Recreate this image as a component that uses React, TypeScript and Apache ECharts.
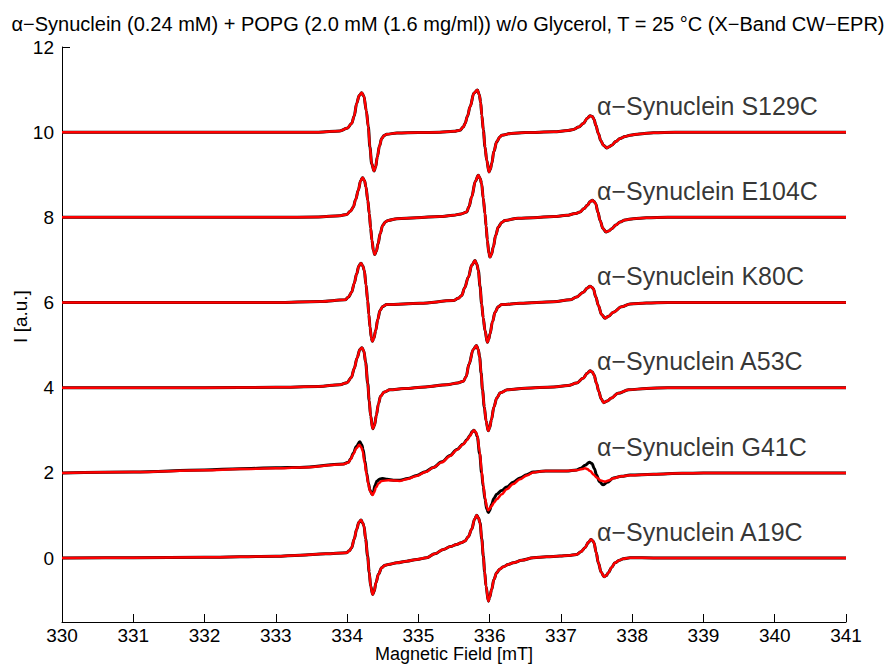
import React, { useEffect, useRef } from "react";
import * as echarts from "echarts";

type Pt = [number, number];

const TITLE =
  "α−Synuclein (0.24 mM) + POPG (2.0 mM (1.6 mg/ml)) w/o Glycerol, T = 25 °C (X−Band CW−EPR)";
const X_NAME = "Magnetic Field [mT]";
const Y_NAME = "I [a.u.]";

const labels = [
  "α−Synuclein S129C",
  "α−Synuclein E104C",
  "α−Synuclein K80C",
  "α−Synuclein A53C",
  "α−Synuclein G41C",
  "α−Synuclein A19C",
];
const offsets = [10, 8, 6, 4, 2, 0];
const labelField = 337.5;
const labelLift = 0.62;
const yTickValues = [0, 2, 4, 6, 8, 10, 12];

// relative intensities (without vertical offset)
const S129C: Pt[] = [
  [330, 0], [331, 0], [332, 0], [333, 0], [333.6, 0], [333.9, 0.03], [334.0, 0.09],
  [334.064, 0.204], [334.1, 0.38], [334.134, 0.675], [334.17, 0.86], [334.205, 0.925],
  [334.235, 0.85], [334.27, 0.5], [334.298, 0.125], [334.32, -0.35], [334.345, -0.737],
  [334.378, -0.91], [334.4, -0.82], [334.424, -0.58], [334.455, -0.32], [334.485, -0.149],
  [334.52, -0.08], [334.555, -0.047], [334.7, -0.02], [335.0, -0.01], [335.3, 0],
  [335.5, 0.02], [335.584, 0.047], [335.63, 0.12], [335.655, 0.204], [335.69, 0.38],
  [335.725, 0.596], [335.78, 0.92], [335.828, 0.988], [335.855, 0.88], [335.874, 0.7],
  [335.89, 0.4], [335.912, 0.047], [335.935, -0.35], [335.959, -0.659], [335.991, -0.933],
  [336.01, -0.87], [336.029, -0.737], [336.06, -0.45], [336.099, -0.227], [336.14, -0.12],
  [336.169, -0.071], [336.3, -0.03], [336.5, -0.01], [336.9, 0.008], [337.1, 0.04],
  [337.175, 0.063], [337.25, 0.12], [337.315, 0.204], [337.37, 0.33], [337.409, 0.384],
  [337.44, 0.37], [337.465, 0.3], [337.49, 0.16], [337.526, -0.031], [337.56, -0.2],
  [337.596, -0.306], [337.643, -0.369], [337.68, -0.34], [337.713, -0.306], [337.77, -0.22],
  [337.83, -0.149], [337.9, -0.1], [337.97, -0.071], [338.1, -0.04], [338.3, -0.015],
  [338.6, 0], [339, 0], [340, 0], [341, 0],
];

const E104C: Pt[] = [
  [330, 0], [331, 0], [332, 0], [333, 0], [333.6, 0.01], [333.9, 0.04], [333.994, 0.07],
  [334.05, 0.15], [334.087, 0.243], [334.12, 0.42], [334.157, 0.635], [334.19, 0.86],
  [334.218, 0.933], [334.245, 0.86], [334.265, 0.714], [334.29, 0.4], [334.312, 0.086],
  [334.33, -0.25], [334.349, -0.541], [334.37, -0.79], [334.387, -0.871], [334.41, -0.8],
  [334.434, -0.62], [334.465, -0.38], [334.499, -0.188], [334.54, -0.1], [334.578, -0.071],
  [334.7, -0.03], [334.976, -0.008], [335.3, 0.02], [335.49, 0.047], [335.6, 0.08],
  [335.678, 0.125], [335.71, 0.25], [335.748, 0.478], [335.8, 0.85], [335.841, 0.988],
  [335.865, 0.92], [335.888, 0.792], [335.91, 0.45], [335.935, 0.086], [335.95, -0.2],
  [335.968, -0.541], [335.99, -0.85], [336.005, -0.933], [336.025, -0.87], [336.052, -0.698],
  [336.085, -0.42], [336.122, -0.227], [336.17, -0.12], [336.215, -0.071], [336.4, -0.02],
  [336.613, -0.008], [336.9, 0.02], [337.081, 0.047], [337.2, 0.09], [337.268, 0.125],
  [337.32, 0.2], [337.371, 0.282], [337.41, 0.37], [337.441, 0.4], [337.465, 0.37],
  [337.488, 0.322], [337.52, 0.12], [337.549, -0.071], [337.59, -0.26], [337.633, -0.345],
  [337.67, -0.32], [337.713, -0.267], [337.77, -0.18], [337.83, -0.11], [337.9, -0.06],
  [338.017, -0.031], [338.2, -0.01], [338.5, 0], [339, 0], [340, 0], [341, 0],
];

const K80C: Pt[] = [
  [330, 0], [331, 0], [332, 0], [333, 0], [333.62, 0.024], [333.971, 0.063], [334.02, 0.13],
  [334.064, 0.243], [334.1, 0.45], [334.134, 0.675], [334.165, 0.86], [334.195, 0.925],
  [334.22, 0.86], [334.242, 0.753], [334.265, 0.42], [334.289, 0.047], [334.305, -0.28],
  [334.322, -0.58], [334.34, -0.82], [334.354, -0.91], [334.375, -0.84], [334.401, -0.659],
  [334.43, -0.4], [334.462, -0.188], [334.5, -0.09], [334.555, -0.047], [335.023, -0.016],
  [335.491, 0.047], [335.56, 0.1], [335.608, 0.165], [335.65, 0.35], [335.701, 0.596],
  [335.75, 0.88], [335.795, 0.988], [335.82, 0.9], [335.842, 0.753], [335.865, 0.38],
  [335.888, -0.031], [335.91, -0.36], [335.935, -0.659], [335.968, -0.933], [335.985, -0.87],
  [336.005, -0.737], [336.04, -0.45], [336.076, -0.227], [336.12, -0.1], [336.169, -0.047],
  [336.426, -0.016], [336.9, 0.02], [337.128, 0.063], [337.22, 0.13], [337.315, 0.243],
  [337.37, 0.34], [337.409, 0.384], [337.435, 0.36], [337.455, 0.322], [337.49, 0.13],
  [337.526, -0.071], [337.57, -0.28], [337.62, -0.369], [337.67, -0.32], [337.736, -0.227],
  [337.85, -0.1], [337.97, -0.031], [338.2, -0.01], [338.5, 0], [339, 0], [340, 0], [341, 0],
];

const A53C: Pt[] = [
  [330, 0], [331, 0], [332, 0], [333, 0.01], [333.6, 0.03], [333.9, 0.07], [334.0, 0.12],
  [334.06, 0.24], [334.1, 0.45], [334.14, 0.7], [334.18, 0.9], [334.21, 0.94],
  [334.235, 0.86], [334.26, 0.6], [334.29, 0.1], [334.31, -0.3], [334.33, -0.66],
  [334.36, -0.96], [334.385, -0.88], [334.41, -0.65], [334.44, -0.38], [334.47, -0.2],
  [334.52, -0.1], [334.6, -0.05], [334.8, -0.02], [335.1, 0.02], [335.4, 0.07],
  [335.55, 0.11], [335.63, 0.15], [335.67, 0.26], [335.71, 0.55], [335.77, 0.9],
  [335.815, 0.99], [335.84, 0.9], [335.86, 0.72], [335.88, 0.35], [335.9, -0.05],
  [335.925, -0.45], [335.95, -0.78], [335.98, -1.01], [336.0, -0.94], [336.025, -0.75],
  [336.06, -0.45], [336.1, -0.24], [336.15, -0.12], [336.25, -0.05], [336.5, -0.01],
  [336.9, 0.02], [337.1, 0.05], [337.22, 0.11], [337.31, 0.22], [337.37, 0.34],
  [337.41, 0.4], [337.44, 0.37], [337.465, 0.3], [337.5, 0.1], [337.53, -0.08],
  [337.565, -0.26], [337.6, -0.35], [337.65, -0.31], [337.71, -0.24], [337.8, -0.13],
  [337.95, -0.05], [338.2, -0.015], [338.5, 0], [339, 0], [340, 0], [341, 0],
];

const G41C_fit: Pt[] = [
  [330, 0], [331, 0.02], [332, 0.06], [332.5, 0.09], [333, 0.11], [333.339, 0.125],
  [333.947, 0.204], [334.017, 0.243], [334.05, 0.32], [334.087, 0.439], [334.13, 0.58],
  [334.172, 0.659], [334.2, 0.6], [334.218, 0.518], [334.245, 0.25], [334.274, -0.031],
  [334.3, -0.27], [334.321, -0.424], [334.359, -0.518], [334.38, -0.45], [334.405, -0.345],
  [334.44, -0.25], [334.485, -0.188], [334.578, -0.173], [334.742, -0.188], [334.85, -0.14],
  [334.976, -0.071], [335.1, 0.02], [335.21, 0.125], [335.33, 0.25], [335.444, 0.4],
  [335.54, 0.54], [335.631, 0.675], [335.68, 0.77], [335.724, 0.871], [335.755, 0.96],
  [335.78, 1.004], [335.805, 0.96], [335.827, 0.871], [335.86, 0.5], [335.888, 0.047],
  [335.91, -0.28], [335.935, -0.58], [335.96, -0.8], [335.982, -0.878], [336.0, -0.84],
  [336.028, -0.776], [336.06, -0.7], [336.099, -0.62], [336.17, -0.5], [336.239, -0.384],
  [336.33, -0.26], [336.426, -0.149], [336.52, -0.06], [336.613, 0.008], [336.73, 0.04],
  [336.847, 0.047], [337.081, 0.047], [337.221, 0.063], [337.3, 0.09], [337.338, 0.11],
  [337.37, 0.09], [337.409, 0.047], [337.46, -0.04], [337.502, -0.11], [337.56, -0.18],
  [337.619, -0.204], [337.68, -0.17], [337.736, -0.125], [337.85, -0.08], [337.97, -0.055],
  [338.3, -0.03], [338.7, -0.01], [339, 0], [340, 0], [341, 0],
];

const G41C_exp: Pt[] = [
  [330, 0], [331, 0.02], [332, 0.07], [332.5, 0.1], [333, 0.12], [333.339, 0.13],
  [333.947, 0.21], [334.017, 0.25], [334.05, 0.33], [334.087, 0.46], [334.13, 0.62],
  [334.178, 0.73], [334.205, 0.66], [334.225, 0.55], [334.25, 0.28], [334.274, 0.0],
  [334.3, -0.25], [334.32, -0.4], [334.35, -0.5], [334.37, -0.44], [334.39, -0.3],
  [334.42, -0.19], [334.46, -0.14], [334.5, -0.13], [334.56, -0.15], [334.65, -0.17],
  [334.742, -0.17], [334.85, -0.13], [334.976, -0.06], [335.1, 0.03], [335.21, 0.13],
  [335.33, 0.26], [335.444, 0.41], [335.54, 0.55], [335.631, 0.68], [335.68, 0.78],
  [335.724, 0.88], [335.755, 0.97], [335.78, 1.0], [335.805, 0.95], [335.827, 0.85],
  [335.86, 0.45], [335.888, 0.0], [335.91, -0.32], [335.935, -0.62], [335.96, -0.85],
  [335.982, -0.93], [336.0, -0.88], [336.028, -0.74], [336.06, -0.6], [336.099, -0.5],
  [336.17, -0.41], [336.239, -0.33], [336.33, -0.22], [336.426, -0.12], [336.52, -0.04],
  [336.613, 0.02], [336.73, 0.04], [336.847, 0.045], [337.081, 0.045], [337.221, 0.07],
  [337.28, 0.11], [337.34, 0.18], [337.4, 0.25], [337.435, 0.22], [337.47, 0.1],
  [337.5, -0.05], [337.54, -0.2], [337.59, -0.28], [337.65, -0.22], [337.736, -0.12],
  [337.85, -0.08], [337.97, -0.05], [338.3, -0.03], [338.7, -0.01], [339, 0], [340, 0], [341, 0],
];

const A19C: Pt[] = [
  [330, 0], [331, 0.01], [332, 0.02], [333, 0.045], [333.339, 0.07], [333.7, 0.1],
  [333.994, 0.125], [334.03, 0.17], [334.064, 0.243], [334.1, 0.45], [334.134, 0.675],
  [334.165, 0.84], [334.195, 0.894], [334.218, 0.83], [334.237, 0.753], [334.26, 0.45],
  [334.288, 0.047], [334.31, -0.33], [334.331, -0.659], [334.359, -0.855], [334.38, -0.78],
  [334.405, -0.58], [334.44, -0.38], [334.485, -0.227], [334.53, -0.17], [334.578, -0.149],
  [334.7, -0.11], [334.836, -0.071], [334.98, -0.03], [335.116, 0.008], [335.23, 0.1],
  [335.35, 0.204], [335.45, 0.27], [335.537, 0.322], [335.6, 0.36], [335.654, 0.4],
  [335.7, 0.5], [335.748, 0.675], [335.79, 0.92], [335.818, 1.004], [335.842, 0.95],
  [335.865, 0.831], [335.89, 0.45], [335.911, 0.047], [335.93, -0.32], [335.949, -0.659],
  [335.982, -1.012], [336.0, -0.92], [336.028, -0.737], [336.06, -0.5], [336.099, -0.345],
  [336.14, -0.26], [336.192, -0.204], [336.26, -0.15], [336.332, -0.11], [336.45, -0.05],
  [336.613, 0.008], [336.8, 0.03], [336.987, 0.047], [337.1, 0.06], [337.221, 0.086],
  [337.28, 0.15], [337.338, 0.243], [337.385, 0.37], [337.422, 0.439], [337.445, 0.41],
  [337.464, 0.361], [337.495, 0.13], [337.525, -0.11], [337.565, -0.33], [337.605, -0.439],
  [337.635, -0.41], [337.666, -0.345], [337.71, -0.22], [337.759, -0.11], [337.82, -0.05],
  [337.876, -0.016], [337.97, 0.008], [338.3, 0.005], [339, 0], [340, 0], [341, 0],
];

const experimental: Pt[][] = [S129C, E104C, K80C, A53C, G41C_exp, A19C];
const simulated: Pt[][] = [S129C, E104C, K80C, A53C, G41C_fit, A19C];

const FONT = "'Liberation Sans', Arial, Helvetica, sans-serif";

export default function App() {
  const ref = useRef<HTMLDivElement>(null);
  useEffect(() => {
    if (!ref.current) return;
    const chart = echarts.init(ref.current, undefined, { renderer: "svg" });
    const shift = (pts: Pt[], off: number) => pts.map((p) => [p[0], p[1] + off]);
    const lineSeries = (pts: Pt[][], color: string, width: number) =>
      pts.map((d, i) => ({
        type: "line" as const,
        data: shift(d, offsets[i]),
        showSymbol: false,
        symbol: "none",
        smooth: 0.35,
        smoothMonotone: "x" as const,
        lineStyle: { color, width },
        silent: true,
        z: color === "#000000" ? 2 : 3,
      }));
    const labelSeries = labels.map((name, i) => ({
      type: "scatter" as const,
      data: [[labelField, offsets[i] + labelLift]],
      symbolSize: 1,
      itemStyle: { color: "rgba(0,0,0,0)" },
      silent: true,
      z: 5,
      label: {
        show: true,
        position: "right" as const,
        distance: 0,
        formatter: name,
        fontSize: 25,
        fontFamily: FONT,
        color: "#000",
      },
    }));
    chart.setOption({
      animation: false,
      backgroundColor: "#ffffff",
      title: {
        text: TITLE,
        left: "center",
        top: 9,
        textStyle: { fontSize: 20, fontWeight: "normal", fontFamily: FONT, color: "#000" },
      },
      grid: { left: 62, right: 50, top: 47, bottom: 44, outerBoundsMode: "none" },
      xAxis: {
        type: "value",
        min: 330,
        max: 341,
        interval: 1,
        name: X_NAME,
        nameLocation: "middle",
        nameGap: 23,
        nameMoveOverlap: false,
        nameTextStyle: { fontSize: 18, fontFamily: FONT, color: "#000" },
        axisLine: { show: true, onZero: false, lineStyle: { color: "#000", width: 1 } },
        axisTick: { show: true, inside: true, length: 8, lineStyle: { color: "#000" } },
        axisLabel: { fontSize: 19, fontFamily: FONT, color: "#000", margin: 4 },
        splitLine: { show: false },
      },
      yAxis: {
        type: "value",
        min: -1.5,
        max: 12,
        name: Y_NAME,
        nameLocation: "middle",
        nameGap: 32,
        nameMoveOverlap: false,
        nameTextStyle: {
          fontSize: 19,
          fontFamily: FONT,
          color: "#000",
          padding: [0, 0, 0, 36],
        },
        axisLine: { show: true, onZero: false, lineStyle: { color: "#000", width: 1 } },
        axisTick: {
          show: true,
          inside: true,
          length: 8,
          customValues: yTickValues,
          lineStyle: { color: "#000" },
        },
        axisLabel: {
          fontSize: 19,
          fontFamily: FONT,
          color: "#000",
          margin: 8,
          customValues: yTickValues,
        },
        splitLine: { show: false },
      },
      series: [
        ...lineSeries(experimental, "#000000", 3),
        ...lineSeries(simulated, "#ff0000", 2.5),
        ...labelSeries,
      ],
    });
    return () => chart.dispose();
  }, []);
  return (
    <div
      ref={ref}
      style={{ position: "absolute", left: 0, top: 0, width: 896, height: 666, background: "#fff" }}
    />
  );
}
